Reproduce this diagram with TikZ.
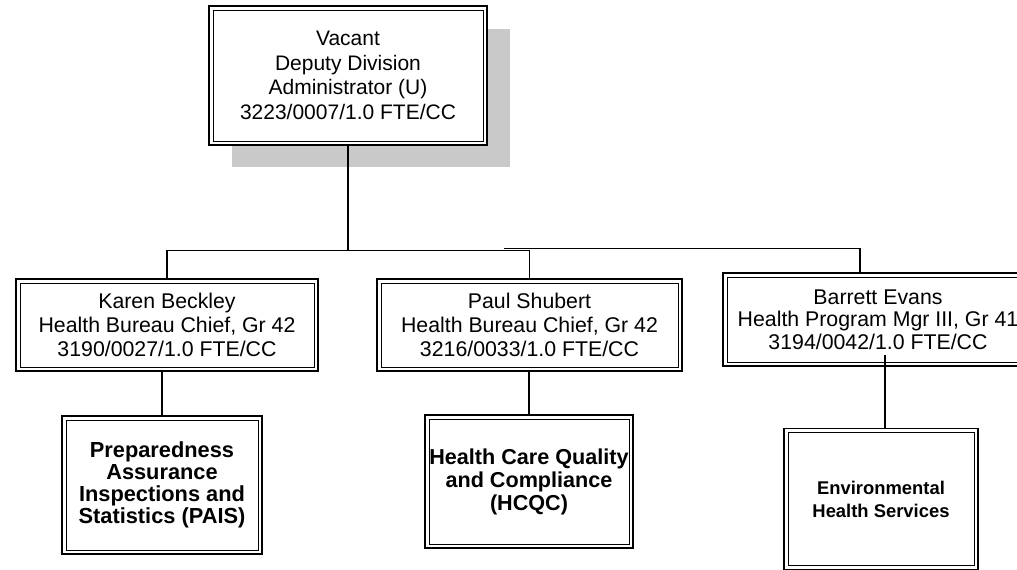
\documentclass[tikz,border=0pt]{standalone}
\usepackage{fontspec}
\setmainfont{Liberation Sans}
\begin{document}
\begin{tikzpicture}[x=1pt,y=-1pt,
  box/.style={draw, line width=1.6pt, fill=white, inner sep=0pt, align=center,
    font=\fontsize{21}{24.5}\selectfont,
    path picture={\draw[line width=0.9pt]
      ([shift={(4pt,4pt)}]path picture bounding box.south west) rectangle
      ([shift={(-4pt,-4pt)}]path picture bounding box.north east);}},
  unit/.style={box, font=\bfseries\fontsize{21.7}{22.5}\selectfont},
  conn/.style={line width=1.4pt},
  shadowc/.style={fill=black!21}
]
\useasboundingbox (0,0) rectangle (1017,570);
\clip (0,0) rectangle (1017,570);

% shadow of the top box
\fill[shadowc] (232,29) rectangle (510,167);

\node[box, minimum width=278pt, minimum height=139pt] (top) at (348,75.5)
  {Vacant\\Deputy Division\\Administrator (U)\\3223/0007/1.0 FTE/CC};

\node[box, minimum width=302pt, minimum height=92pt,
  font=\fontsize{21.3}{24}\selectfont] (karen) at (167,325)
  {Karen Beckley\\Health Bureau Chief, Gr 42\\3190/0027/1.0 FTE/CC};
\node[box, minimum width=305pt, minimum height=92pt,
  font=\fontsize{21.3}{24}\selectfont] (paul) at (529.5,325)
  {Paul Shubert\\Health Bureau Chief, Gr 42\\3216/0033/1.0 FTE/CC};
\node[box, minimum width=310pt, minimum height=93pt,
  font=\fontsize{21.3}{22.5}\selectfont] (barrett) at (878,319.5)
  {Barrett Evans\\Health Program Mgr III, Gr 41\\3194/0042/1.0 FTE/CC};

\node[unit, minimum width=200pt, minimum height=138pt,
  font=\bfseries\fontsize{21.8}{22}\selectfont] (pais) at (162,485)
  {Preparedness\\Assurance\\Inspections and\\Statistics (PAIS)};
\node[unit, minimum width=208pt, minimum height=133pt,
  font=\bfseries\fontsize{21.6}{23}\selectfont] (hcqc) at (529,481.5)
  {Health Care Quality\\and Compliance\\(HCQC)};
\node[unit, minimum width=194pt, minimum height=141pt,
  font=\bfseries\fontsize{18.4}{23}\selectfont] (env) at (881,499)
  {Environmental\\Health Services};

% connectors
\coordinate (bus) at (348,250.5);
\coordinate (bus2) at (504,248.5);
\coordinate (bdrop) at (860,248.5);
\coordinate (bstub) at (885,355);

\draw[conn] (top.south) -- (bus);
\draw[conn] (karen.north) |- (paul.north |- bus) -- (paul.north);
\draw[conn] (bus2) -- (bdrop) -- (bdrop |- barrett.north);
\draw[conn] (pais.north) -- (pais.north |- karen.south);
\draw[conn] (hcqc.north) -- (hcqc.north |- paul.south);
\draw[conn] (bstub) -- (bstub |- env.north);
\end{tikzpicture}
\end{document}
